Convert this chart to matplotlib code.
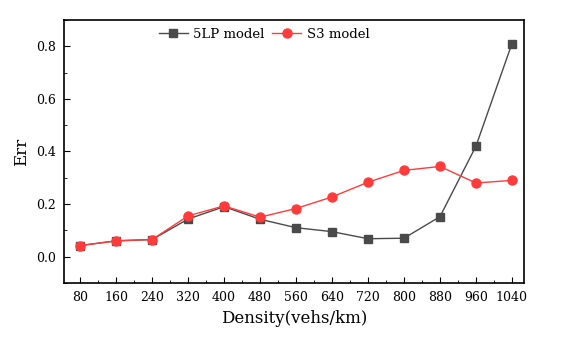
import matplotlib
matplotlib.use("Agg")
import matplotlib.pyplot as plt
from matplotlib.ticker import MultipleLocator

plt.rcParams['font.family'] = ['DejaVu Serif']

# Data
density = [80, 160, 240, 320, 400, 480, 560, 640, 720, 800, 880, 960, 1040]
err_5lp = [0.042, 0.060, 0.065, 0.143, 0.190, 0.142, 0.110, 0.095, 0.068, 0.070, 0.152, 0.420, 0.810]
err_s3 = [0.042, 0.060, 0.065, 0.155, 0.193, 0.150, 0.183, 0.227, 0.283, 0.328, 0.343, 0.280, 0.290]

fig = plt.figure(figsize=(5.74, 3.51), dpi=100)
ax = fig.add_axes([0.1115, 0.194, 0.8015, 0.749])

ax.plot(density, err_5lp, color="#4a4a4a", marker="s", markersize=6, lw=1.0,
        label="5LP model")
ax.plot(density, err_s3, color="#ff3b3b", marker="o", markersize=6.5, lw=1.0,
        label="S3 model")

ax.set_xlim(44, 1067)
ax.set_ylim(-0.1, 0.9)
ax.set_xticks(density)
ax.set_yticks([0.0, 0.2, 0.4, 0.6, 0.8])
ax.xaxis.set_minor_locator(MultipleLocator(40))
ax.yaxis.set_minor_locator(MultipleLocator(0.1))
ax.tick_params(which="both", direction="in", top=False, right=False, labelsize=9)
ax.tick_params(which="major", length=4, pad=6)
ax.tick_params(which="minor", length=2)
for s in ax.spines.values():
    s.set_linewidth(1.2)

ax.set_xlabel("Density(vehs/km)", fontsize=12, labelpad=4)
ax.set_ylabel("Err", fontsize=12)

ax.legend(loc="upper center", bbox_to_anchor=(0.435, 1.0), ncol=2, frameon=False,
          fontsize=9.5, handlelength=2.2, columnspacing=0.6, handletextpad=0.4,
          borderaxespad=0.2)

fig.savefig("out.png", dpi=100)
